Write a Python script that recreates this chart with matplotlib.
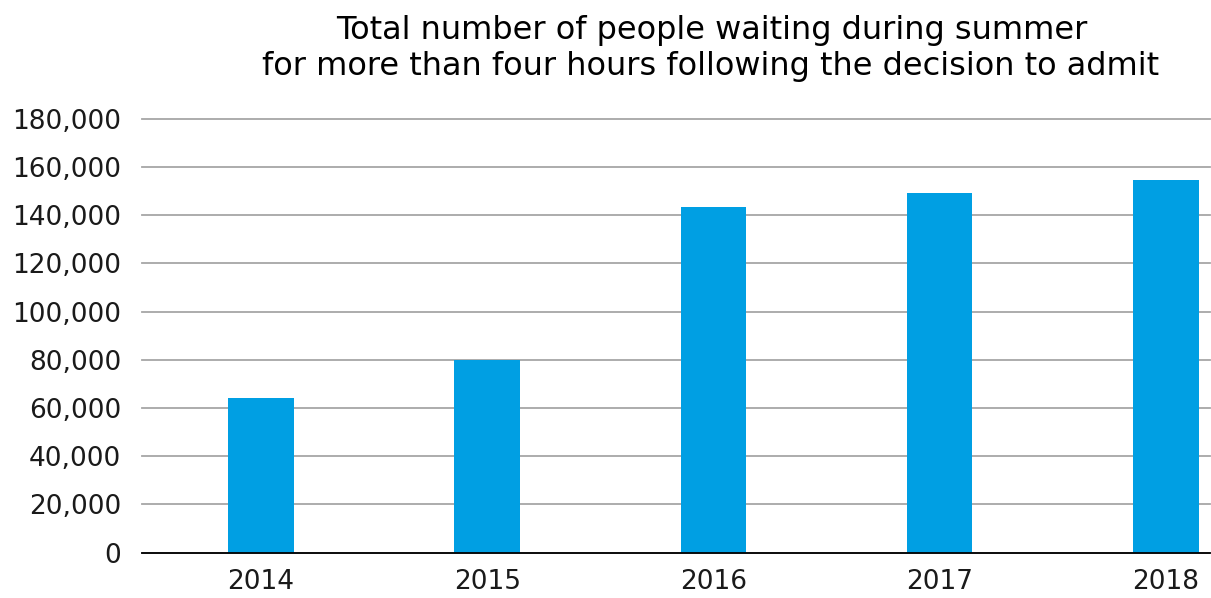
import matplotlib.pyplot as plt
from matplotlib.ticker import FuncFormatter

years = ['2014', '2015', '2016', '2017', '2018']
waiting = [64300, 80000, 143200, 149000, 154400]
yticks = list(range(0, 180001, 20000))

plt.rcParams['font.family'] = ['DejaVu Sans']

fig = plt.figure(figsize=(12.11, 5.98), dpi=100)
ax = fig.add_axes([142 / 1211, 1 - 552.7 / 598, (1210 - 142) / 1211, 434 / 598])

x = range(len(years))
ax.bar(x, waiting, width=0.29, color='#009FE3', zorder=3)

ax.set_ylim(0, 180000)
ax.set_xlim(-0.526, 4.195)
ax.set_yticks(yticks)
ax.yaxis.set_major_formatter(FuncFormatter(lambda v, p: f'{int(v):,}'))
ax.set_xticks(list(x))
ax.set_xticklabels(years)
ax.grid(axis='y', color='#A6A6A6', linewidth=1.3, zorder=0)
for gl in ax.get_ygridlines():
    gl.set_clip_on(False)
ax.axhline(0, color='black', linewidth=1.3, zorder=4, clip_on=False)

for s in ax.spines.values():
    s.set_visible(False)
ax.tick_params(axis='both', length=0, labelsize=19, colors='#1a1a1a')
ax.tick_params(axis='y', pad=15)
ax.tick_params(axis='x', pad=12)

fig.text(712 / 1211, 1 - 31 / 598, 'Total number of people waiting during summer',
         ha='center', va='center', fontsize=23, color='black')
fig.text(711 / 1211, 1 - 67 / 598, 'for more than four hours following the decision to admit',
         ha='center', va='center', fontsize=23, color='black')

fig.savefig('out.png', dpi=100)
